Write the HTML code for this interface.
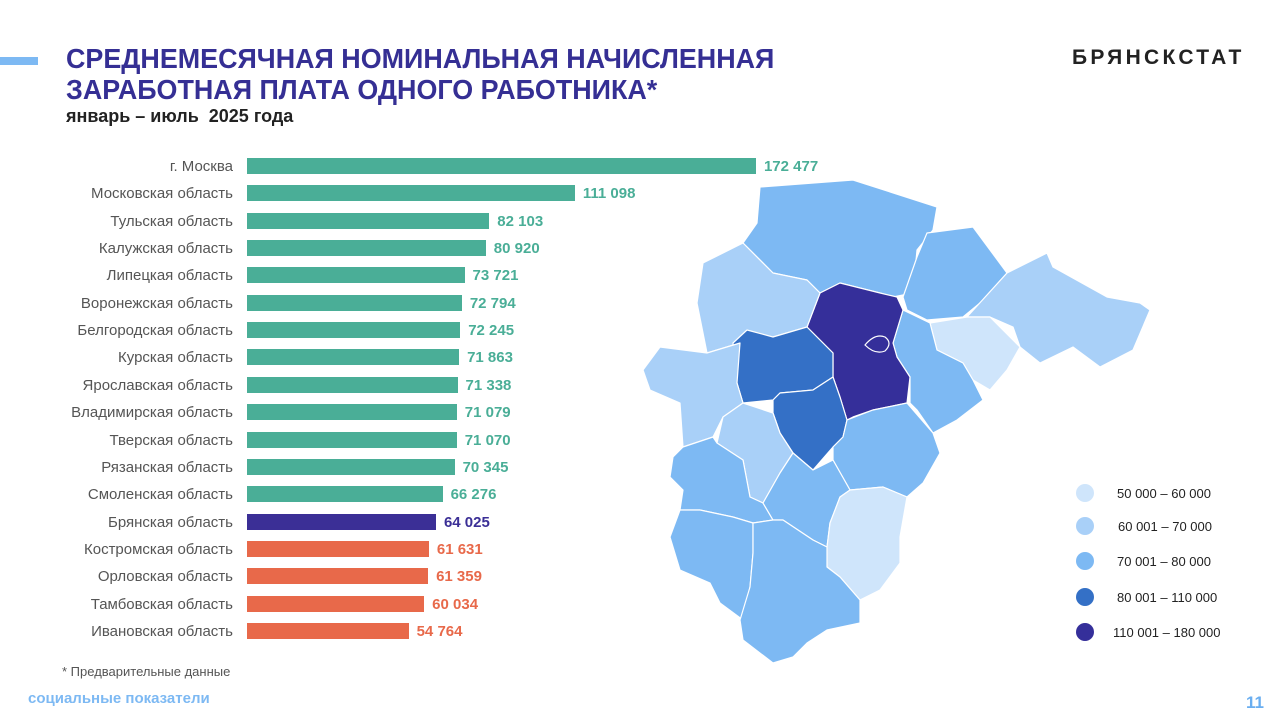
<!DOCTYPE html>
<html><head><meta charset="utf-8"><style>
body{margin:0;width:1280px;height:722px;background:#fff;position:relative;overflow:hidden;font-family:"Liberation Sans",sans-serif}
.a{position:absolute;white-space:nowrap}
.t{color:#352f94;font-weight:bold;font-size:28px;transform:scaleX(0.96);transform-origin:0 0;line-height:31px}
.lab{position:absolute;right:1047px;font-size:15px;color:#555;text-align:right}
.bar{position:absolute;left:247px;height:16px}
.v{position:absolute;font-size:15px;font-weight:bold}
</style></head><body>
<div class="a" style="left:0;top:57px;width:38px;height:8px;background:#7db9f3"></div>
<div class="a t" style="left:66px;top:43px">СРЕДНЕМЕСЯЧНАЯ НОМИНАЛЬНАЯ НАЧИСЛЕННАЯ<br>ЗАРАБОТНАЯ ПЛАТА ОДНОГО РАБОТНИКА*</div>
<div class="a" style="left:66px;top:106px;font-size:18px;font-weight:bold;color:#222">январь – июль&nbsp; 2025 года</div>
<div class="a" style="left:1072px;top:46px;font-size:21px;font-weight:bold;color:#222;letter-spacing:3.3px">БРЯНСКСТАТ</div>
<div id="bars"></div>
<script>
var d=[["г. Москва",172477,"#4aae97"],["Московская область",111098,"#4aae97"],["Тульская область",82103,"#4aae97"],["Калужская область",80920,"#4aae97"],["Липецкая область",73721,"#4aae97"],["Воронежская область",72794,"#4aae97"],["Белгородская область",72245,"#4aae97"],["Курская область",71863,"#4aae97"],["Ярославская область",71338,"#4aae97"],["Владимирская область",71079,"#4aae97"],["Тверская область",71070,"#4aae97"],["Рязанская область",70345,"#4aae97"],["Смоленская область",66276,"#4aae97"],["Брянская область",64025,"#3b2f96"],["Костромская область",61631,"#e8694a"],["Орловская область",61359,"#e8694a"],["Тамбовская область",60034,"#e8694a"],["Ивановская область",54764,"#e8694a"]];
var h="";d.forEach(function(r,i){var c=166+i*27.35,w=r[1]*0.002951;
var s=String(r[1]).replace(/\B(?=(\d{3})+(?!\d))/g," ");
h+='<div class="lab" style="top:'+(c-8)+'px">'+r[0]+'</div><div class="bar" style="top:'+(c-8)+'px;width:'+w+'px;background:'+r[2]+'"></div><div class="v" style="top:'+(c-8)+'px;left:'+(247+w+8)+'px;color:'+r[2]+'">'+s+'</div>';});
document.getElementById("bars").innerHTML=h;
</script>
<svg class="a" style="left:0;top:0" width="1280" height="722">
<g stroke="#fff" stroke-width="1.2" stroke-linejoin="round">
<polygon fill="#7db9f3" points="760,187 853,180 937,207 933,230 917,250 913,293 893,297 880,293 840,283 820,293 807,280 773,273 743,243 757,223"/>
<polygon fill="#7db9f3" points="927,233 973,227 1007,273 980,303 963,317 927,320 907,310 903,297 917,257"/>
<polygon fill="#a9d0f8" points="1007,273 1047,253 1053,267 1107,297 1140,303 1150,310 1133,350 1100,367 1073,347 1040,363 1020,347 1013,327 990,317 967,317"/>
<polygon fill="#cfe5fb" points="930,323 967,317 990,317 1020,347 1007,370 990,390 973,380 963,363 937,350"/>
<polygon fill="#7db9f3" points="903,310 930,323 937,350 963,363 973,380 983,400 957,420 933,433 917,410 910,403 910,377 897,357 893,343"/>
<polygon fill="#352f9a" points="820,293 840,283 880,293 897,297 903,310 893,343 897,357 910,377 907,403 873,410 853,417 847,420 840,397 833,377 833,353 807,327"/>
<polygon fill="#a9d0f8" points="703,263 743,243 773,273 807,280 820,293 807,327 773,337 740,343 707,353 697,303"/>
<polygon fill="#3470c6" points="733,343 747,330 773,337 807,327 833,353 833,377 813,390 780,393 773,400 743,403 737,383"/>
<polygon fill="#3470c6" points="773,400 780,393 813,390 833,377 840,397 847,420 843,437 833,447 813,470 793,453 780,433 773,413"/>
<polygon fill="#7db9f3" points="847,420 873,410 907,403 933,433 940,453 923,483 907,497 883,487 850,490 833,460 833,447 843,437"/>
<polygon fill="#a9d0f8" points="643,370 660,347 707,353 740,343 737,383 743,403 723,417 713,437 683,447 680,403 650,390"/>
<polygon fill="#a9d0f8" points="723,417 743,403 773,413 780,433 793,453 780,473 763,503 750,497 743,460 717,443"/>
<polygon fill="#7db9f3" points="673,457 683,447 713,437 717,443 743,460 750,497 763,503 773,520 753,523 733,517 700,510 680,510 683,490 670,477"/>
<polygon fill="#7db9f3" points="763,503 780,473 793,453 813,470 833,460 850,490 840,497 830,523 827,547 813,540 783,520 773,520"/>
<polygon fill="#cfe5fb" points="830,523 840,497 850,490 883,487 907,497 900,537 900,563 880,590 860,600 840,577 827,567 827,547"/>
<polygon fill="#7db9f3" points="680,510 700,510 733,517 753,523 753,553 750,587 743,620 720,603 710,583 680,570 670,537"/>
<polygon fill="#7db9f3" points="753,523 773,520 783,520 813,540 827,547 827,567 840,577 860,600 860,623 827,630 807,643 793,657 773,663 743,640 740,620 750,587 753,553"/>
</g>
<path d="M865,345 q10,-12 20,-8 q8,6 0,14 q-10,4 -20,-6z" fill="none" stroke="#fff" stroke-width="1.2"/>
<g font-family="Liberation Sans,sans-serif" font-size="13" fill="#222">
<circle cx="1085" cy="493" r="9" fill="#cfe5fb"/><text x="1117" y="498">50 000 –  60 000</text>
<circle cx="1085" cy="526" r="9" fill="#a9d0f8"/><text x="1118" y="531">60 001 –  70 000</text>
<circle cx="1085" cy="561" r="9" fill="#7db9f3"/><text x="1117" y="566">70 001 – 80 000</text>
<circle cx="1085" cy="597" r="9" fill="#3470c6"/><text x="1117" y="602">80  001 – 110 000</text>
<circle cx="1085" cy="632" r="9" fill="#352f9a"/><text x="1113" y="637">110 001 – 180 000</text>
</g>
</svg>
<div class="a" style="left:62px;top:664px;font-size:13px;color:#555">* Предварительные данные</div>
<div class="a" style="left:28px;top:690px;font-size:15px;font-weight:bold;color:#7db9f3">социальные показатели</div>
<div class="a" style="left:1246px;top:693px;font-size:17px;font-weight:bold;color:#6aaef0">11</div>
</body></html>
